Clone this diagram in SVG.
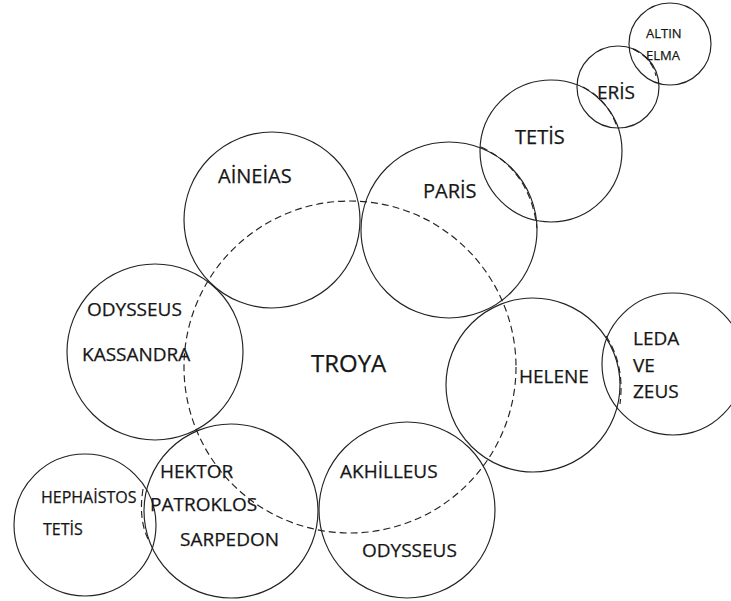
<svg xmlns="http://www.w3.org/2000/svg" width="731" height="601" viewBox="0 0 731 601">
<style>
.c{fill:none;stroke:#222;stroke-width:1.15}
.d{fill:none;stroke:#222;stroke-width:1.15;stroke-dasharray:7 4}
text{font-family:"Open Sans","Liberation Sans",sans-serif;fill:#161616;stroke:#161616;stroke-width:0.25}
.m{font-size:20px}
.n{font-size:19px}
.s{font-size:16px}
.t{font-size:13px}
</style>
<rect width="731" height="601" fill="#fff"/>
<g id="troya">
<circle class="d" cx="350" cy="367" r="166"/>
<text x="311" y="372" style="font-size:24px">TROYA</text>
</g>
<g id="altin-elma">
<circle class="c" cx="670" cy="44" r="41"/>
<text class="t" x="646" y="38">ALTIN</text>
<text class="t" x="646" y="60">ELMA</text>
</g>
<g id="eris">
<circle class="c" cx="618" cy="87" r="41"/>
<text x="597" y="99" style="font-size:19px">ERİS</text>
</g>
<g id="tetis-top">
<circle class="c" cx="551" cy="151" r="71"/>
<text class="m" x="515" y="144">TETİS</text>
</g>
<g id="paris">
<circle class="c" cx="449" cy="230" r="88"/>
<text class="m" x="423" y="198">PARİS</text>
</g>
<g id="aineias">
<circle class="c" cx="272" cy="220" r="88"/>
<text class="m" x="218" y="183">AİNEİAS</text>
</g>
<g id="odysseus-kassandra">
<circle class="c" cx="155" cy="352" r="88"/>
<text class="n" x="87" y="316">ODYSSEUS</text>
<text class="n" x="82" y="361">KASSANDRA</text>
</g>
<g id="helene">
<circle class="c" cx="533" cy="385" r="87"/>
<text class="n" x="519" y="383">HELENE</text>
</g>
<g id="leda-zeus">
<circle class="c" cx="673" cy="364" r="71"/>
<text class="n" x="633" y="345">LEDA</text>
<text class="n" x="633" y="372">VE</text>
<text class="n" x="633" y="398">ZEUS</text>
</g>
<g id="hephaistos">
<circle class="c" cx="85" cy="525" r="71"/>
<text class="s" x="41" y="503">HEPHAİSTOS</text>
<text class="s" x="43" y="535">TETİS</text>
</g>
<g id="hektor">
<circle class="c" cx="231" cy="511" r="87"/>
<text class="n" x="160" y="478">HEKTOR</text>
<text class="n" x="150" y="511">PATROKLOS</text>
<text class="n" x="180" y="546">SARPEDON</text>
</g>
<g id="akhilleus">
<circle class="c" cx="407" cy="510" r="88"/>
<text class="n" x="340" y="478">AKHİLLEUS</text>
<text class="n" x="362" y="557">ODYSSEUS</text>
</g>
<g id="connectors">
<path class="d" d="M633,49 Q652,58 656,76"/>
<path class="d" d="M583,87 Q608,100 617,127"/>
<path class="d" d="M481,147 Q530,170 537,228"/>
<path class="d" d="M606,336 Q625,365 620,404"/>
<path class="d" d="M143,489 Q138,520 149,541"/>
</g>
</svg>
